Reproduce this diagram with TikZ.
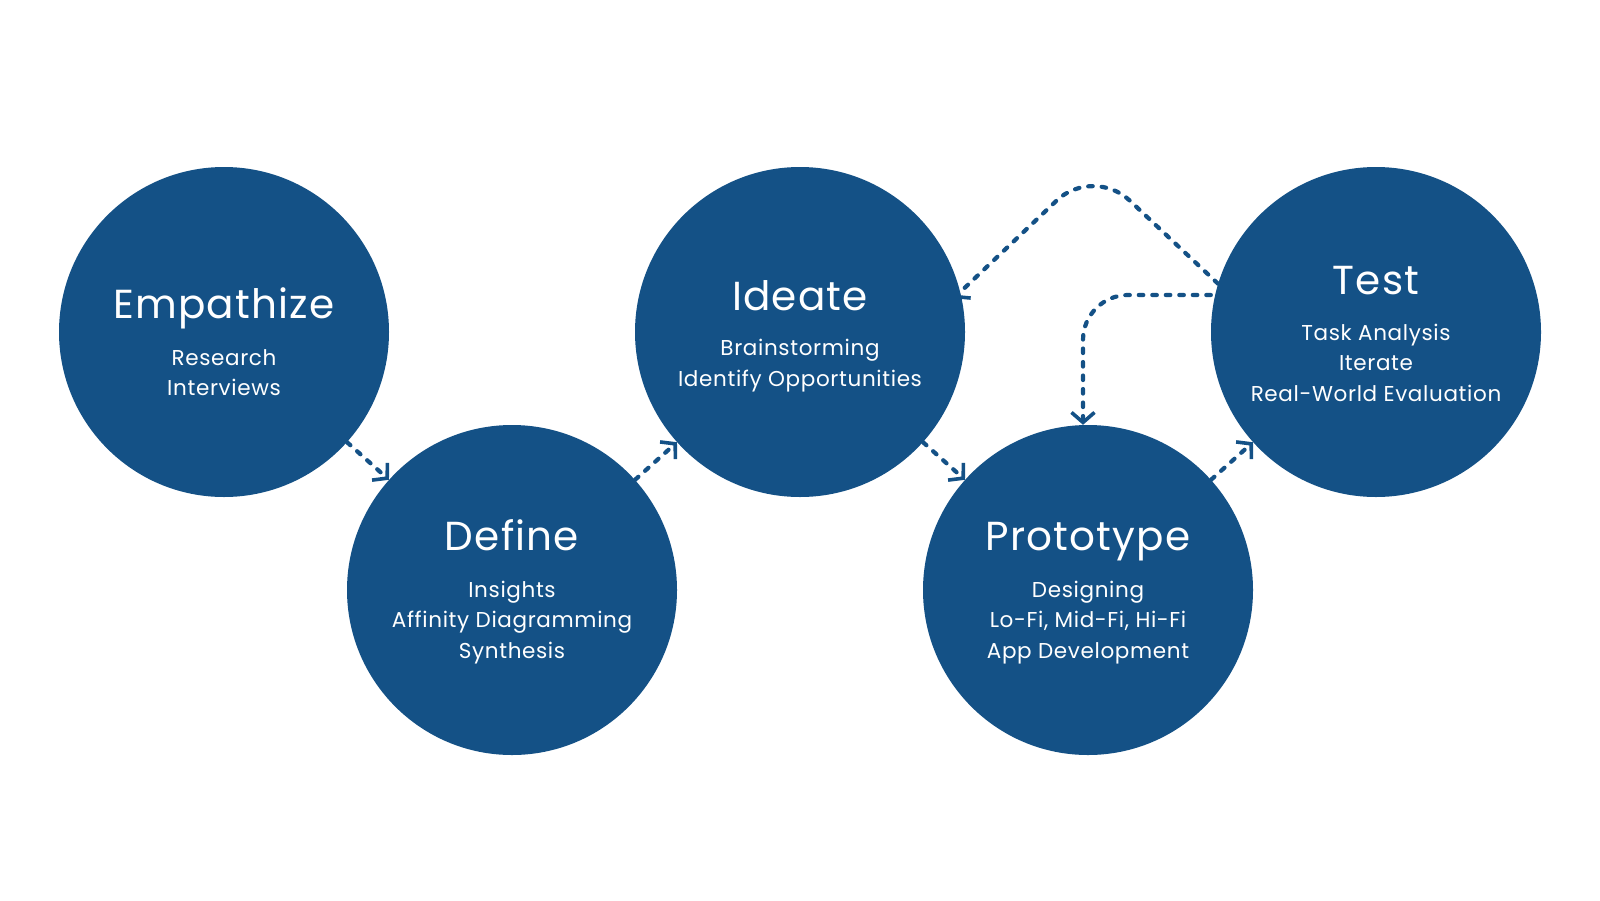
\documentclass[tikz,border=0pt]{standalone}
\usepackage{fontspec}
\setmainfont{Poppins}[LetterSpace=3]
\usetikzlibrary{arrows.meta,backgrounds}
\definecolor{dtblue}{RGB}{20,81,134}
\tikzset{
  phase/.style={circle,fill=dtblue,draw=none,minimum size=330pt,inner sep=0pt},
  ptitle/.style={text=white,anchor=base,inner sep=0pt,font=\fontsize{40.5}{48}\selectfont},
  pline/.style={text=white,anchor=base,inner sep=0pt,font=\fontsize{21.5}{26}\selectfont},
  flow/.style={draw=dtblue,line width=4.2pt,line cap=round,dash pattern=on 4.5pt off 9pt,
    -{Straight Barb[length=10pt,width=23pt,line width=3.6pt]}}
}
\begin{document}
\begin{tikzpicture}[x=1pt,y=-1pt]
\useasboundingbox (0,0) rectangle (1600,900);
\node[phase] (emp) at (224,332) {};
\node[phase] (def) at (512,590) {};
\node[phase] (ide) at (800,332) {};
\node[phase] (pro) at (1088,590) {};
\node[phase] (tst) at (1376,332) {};
% texts
\node[ptitle] (empT) at (224,318) {Empathize};
\node[pline] (empA) at (224,365) {Research};
\node[pline] (empB) at (224,395) {Interviews};
\node[ptitle] (defT) at (512,550) {Define};
\node[pline] (defA) at (512,597) {Insights};
\node[pline] (defB) at (512,627) {Affinity Diagramming};
\node[pline] (defC) at (512,658) {Synthesis};
\node[ptitle] (ideT) at (800,310) {Ideate};
\node[pline] (ideA) at (800,355) {Brainstorming};
\node[pline] (ideB) at (800,386) {Identify Opportunities};
\node[ptitle] (proT) at (1088,550) {Prototype};
\node[pline] (proA) at (1088,597) {Designing};
\node[pline] (proB) at (1088,627) {Lo-Fi, Mid-Fi, Hi-Fi};
\node[pline] (proC) at (1088,658) {App Development};
\node[ptitle] (tstT) at (1376,294) {Test};
\node[pline] (tstA) at (1376,340) {Task Analysis};
\node[pline] (tstB) at (1376,370) {Iterate};
\node[pline] (tstC) at (1376,401) {Real-World Evaluation};
\coordinate (peak) at (1093,166);
\coordinate (bend) at (1083,295);
\begin{scope}[on background layer]
\fill[white] (0,0) rectangle (1600,900);
\draw[flow] (emp) -- (def);
\draw[flow] (def) -- (ide);
\draw[flow] (ide) -- (pro);
\draw[flow] (pro) -- (tst);
\draw[flow,rounded corners=50pt,shorten >=-9pt] (tst.163) -- (peak) -- (ide.14);
\draw[flow,rounded corners=45pt] (tst.west |- bend) -- (bend) -- (pro.north -| bend);
\end{scope}
\end{tikzpicture}
\end{document}
